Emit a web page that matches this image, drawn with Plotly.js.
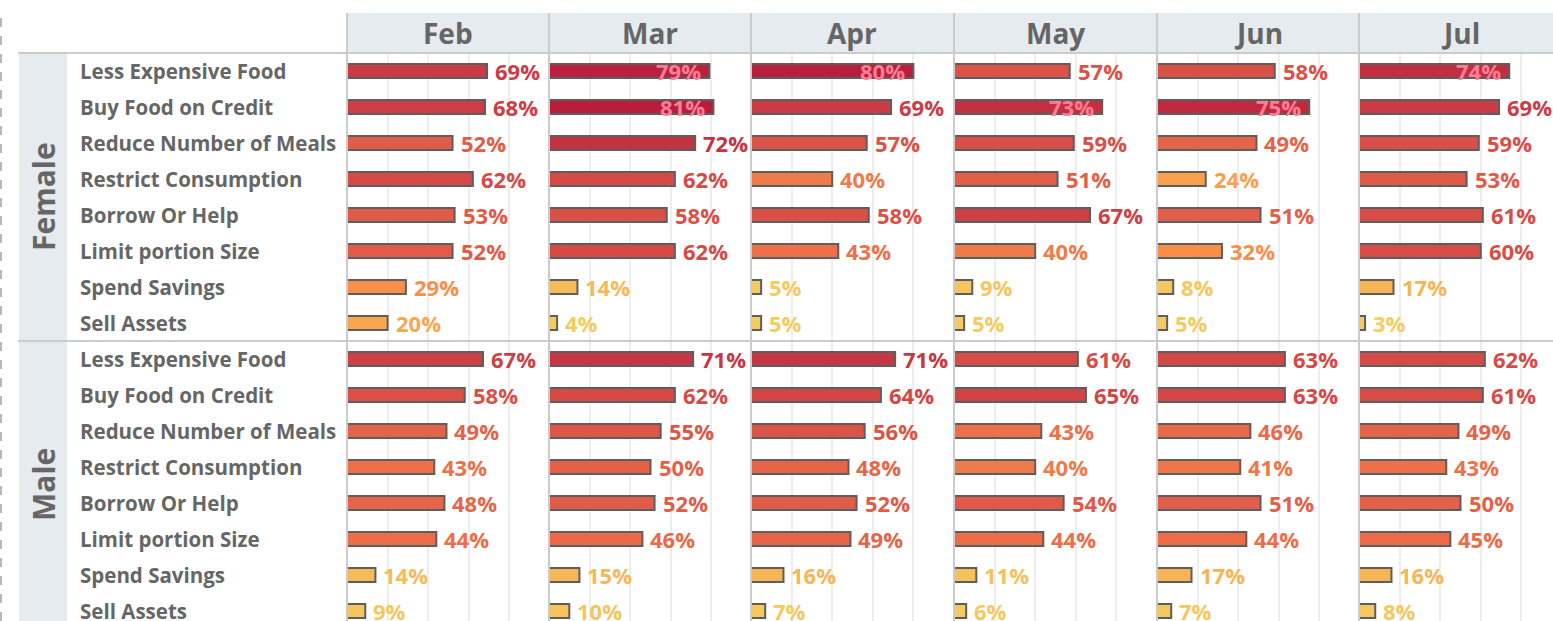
<!DOCTYPE html>
<html>
<head>
<meta charset="utf-8">
<script src="https://cdn.plot.ly/plotly-3.0.1.min.js"></script>
<style>html,body{margin:0;padding:0;background:#fff;}#chart{width:1553px;height:621px;}</style>
</head>
<body>
<div id="chart"></div>
<script>
// ---------------- DATA ----------------
const months = ['Feb', 'Mar', 'Apr', 'May', 'Jun', 'Jul'];
const groups = ['Female', 'Male'];
const categories = ['Less Expensive Food', 'Buy Food on Credit', 'Reduce Number of Meals',
  'Restrict Consumption', 'Borrow Or Help', 'Limit portion Size', 'Spend Savings', 'Sell Assets'];

// values in percent, one array per month, in the order of `categories`
const femaleFeb = [69, 68, 52, 62, 53, 52, 29, 20];
const femaleMar = [79, 81, 72, 62, 58, 62, 14, 4];
const femaleApr = [80, 69, 57, 40, 58, 43, 5, 5];
const femaleMay = [57, 73, 59, 51, 67, 40, 9, 5];
const femaleJun = [58, 75, 49, 24, 51, 32, 8, 5];
const femaleJul = [74, 69, 59, 53, 61, 60, 17, 3];

const maleFeb = [67, 58, 49, 43, 48, 44, 14, 9];
const maleMar = [71, 62, 55, 50, 52, 46, 15, 10];
const maleApr = [71, 64, 56, 48, 52, 49, 16, 7];
const maleMay = [61, 65, 43, 40, 54, 44, 11, 6];
const maleJun = [63, 63, 46, 41, 51, 44, 17, 7];
const maleJul = [62, 61, 49, 43, 50, 45, 16, 8];

const femaleValues = [femaleFeb, femaleMar, femaleApr, femaleMay, femaleJun, femaleJul];
const maleValues = [maleFeb, maleMar, maleApr, maleMay, maleJun, maleJul];

// ---------------- STYLE / LAYOUT ----------------
const W = 1553, H = 621;
const FONT = '"Open Sans", "Noto Sans", sans-serif';
const GREY_TEXT = '#666666';
const SEP = '#CBCBCB';
const pxPerUnit = 2.03;
const panelStarts = [347, 549, 751, 954, 1157, 1359];
const panelEnd = 1553;
const headerTop = 13, headerBottom = 53, groupSplit = 341;
const rowPx = 36;

const px = x => x / W;
const py = y => 1 - y / H;

// sequential colour ramp (value % -> colour)
const ramp = [
  [3, [245, 204, 94]], [9, [245, 198, 94]], [15, [246, 184, 87]], [17, [246, 180, 85]],
  [20, [249, 166, 78]], [24, [249, 160, 76]], [29, [250, 143, 74]], [32, [249, 142, 74]],
  [40, [239, 122, 74]], [44, [236, 109, 72]], [49, [229, 99, 72]], [52, [225, 92, 72]],
  [57, [219, 82, 71]], [62, [213, 74, 71]], [65, [208, 68, 70]], [69, [202, 59, 69]],
  [72, [197, 51, 67]], [75, [192, 42, 65]], [81, [184, 29, 60]]
];
function colorFor(v) {
  if (v <= ramp[0][0]) return rgb(ramp[0][1]);
  for (let i = 1; i < ramp.length; i++) {
    if (v <= ramp[i][0]) {
      const [a, ca] = ramp[i - 1], [b, cb] = ramp[i];
      const t = (v - a) / (b - a);
      return rgb(ca.map((c, k) => c + (cb[k] - c) * t));
    }
  }
  return rgb(ramp[ramp.length - 1][1]);
}
function rgb(c) { return 'rgb(' + c.map(Math.round).join(',') + ')'; }

const insideThreshold = 73;

const traces = [];
const annotations = [];
const layout = {
  width: W, height: H,
  margin: {l: 0, r: 0, t: 0, b: 0},
  paper_bgcolor: '#ffffff', plot_bgcolor: 'rgba(0,0,0,0)',
  showlegend: false,
  font: {family: FONT, color: GREY_TEXT},
  bargap: 0,
  shapes: [],
  annotations: annotations
};

const femaleRows = (groupSplit - headerBottom) / rowPx; // 8
const maleRows = (H - groupSplit) / rowPx;

layout.yaxis = {
  domain: [py(groupSplit), py(headerBottom)], type: 'category', categoryarray: categories,
  range: [femaleRows - 0.5, -0.5], showticklabels: false, showgrid: false, zeroline: false,
  showline: false, ticks: '', fixedrange: true
};
layout.yaxis2 = {
  domain: [0, py(groupSplit)], type: 'category', categoryarray: categories,
  range: [maleRows - 0.5, -0.5], showticklabels: false, showgrid: false, zeroline: false,
  showline: false, ticks: '', fixedrange: true
};

groups.forEach((g, gi) => {
  const yRef = gi === 0 ? 'y' : 'y2';
  const valuesByMonth = gi === 0 ? femaleValues : maleValues;
  months.forEach((m, mi) => {
    const axIndex = gi * months.length + mi + 1;
    const xName = axIndex === 1 ? 'xaxis' : 'xaxis' + axIndex;
    const xRef = axIndex === 1 ? 'x' : 'x' + axIndex;
    const x0 = panelStarts[mi];
    const x1 = mi < months.length - 1 ? panelStarts[mi + 1] : panelEnd;
    layout[xName] = {
      domain: [px(x0), px(x1)], range: [0, (x1 - x0) / pxPerUnit], anchor: yRef,
      showticklabels: false, ticks: '', zeroline: false, showline: false,
      showgrid: true, gridcolor: '#EEEEEE', gridwidth: 2, tickmode: 'array',
      tickvals: [20, 40, 60, 80], fixedrange: true
    };
    const vals = valuesByMonth[mi];
    traces.push({
      type: 'bar', orientation: 'h', x: vals, y: categories,
      xaxis: xRef, yaxis: yRef, width: 0.39,
      marker: {color: vals.map(colorFor), line: {color: '#5E5E5E', width: 2}},
      hoverinfo: 'skip', cliponaxis: false
    });
    vals.forEach((v, ci) => {
      const inside = v >= insideThreshold;
      annotations.push({
        xref: xRef, yref: yRef, x: v, y: categories[ci],
        text: v + '%', showarrow: false,
        xanchor: inside ? 'right' : 'left', xshift: inside ? -6 : 6, yshift: 0,
        font: {family: FONT, size: 22, weight: 700, color: inside ? '#FF7E96' : colorFor(v)}
      });
    });
  });
  // category labels
  categories.forEach(c => {
    annotations.push({
      xref: 'paper', yref: yRef, x: px(78), y: c, text: c, showarrow: false,
      xanchor: 'left', font: {family: FONT, size: 20.5, weight: 700, color: GREY_TEXT}
    });
  });
});

// month headers
months.forEach((m, mi) => {
  const x0 = panelStarts[mi];
  const x1 = x0 + 202;
  annotations.push({
    xref: 'paper', yref: 'paper', x: px((x0 + x1) / 2), y: py((headerTop + headerBottom) / 2),
    text: m, showarrow: false, xanchor: 'center', yanchor: 'middle',
    font: {family: FONT, size: 28, weight: 700, color: GREY_TEXT}
  });
});

// group headers (rotated)
annotations.push({
  xref: 'paper', yref: 'paper', x: px(43), y: py((headerBottom + groupSplit) / 2),
  text: groups[0], textangle: -90, showarrow: false, xanchor: 'center', yanchor: 'middle',
  font: {family: FONT, size: 30, weight: 700, color: GREY_TEXT}
});
annotations.push({
  xref: 'paper', yref: 'paper', x: px(43), y: py(groupSplit + 4 * rowPx),
  text: groups[1], textangle: -90, showarrow: false, xanchor: 'center', yanchor: 'middle',
  font: {family: FONT, size: 30, weight: 700, color: GREY_TEXT}
});

// background bands
const S = layout.shapes;
S.push({type: 'rect', xref: 'paper', yref: 'paper', x0: px(panelStarts[0]), x1: 1,
  y0: py(headerBottom), y1: py(headerTop), fillcolor: '#E6EBEF', line: {width: 0}, layer: 'below'});
S.push({type: 'rect', xref: 'paper', yref: 'paper', x0: px(19), x1: px(67),
  y0: 0, y1: py(headerBottom), fillcolor: '#E6EBEF', line: {width: 0}, layer: 'below'});
// horizontal separators
[headerBottom, groupSplit].forEach(y => {
  S.push({type: 'line', xref: 'paper', yref: 'paper', x0: px(18), x1: 1, y0: py(y), y1: py(y),
    line: {color: SEP, width: 2}, layer: 'above'});
});
// vertical separators
panelStarts.forEach(x => {
  S.push({type: 'line', xref: 'paper', yref: 'paper', x0: px(x), x1: px(x), y0: 0, y1: py(headerTop),
    line: {color: SEP, width: 2}, layer: 'above'});
});
// dashed outer border on the left
S.push({type: 'line', xref: 'paper', yref: 'paper', x0: px(1), x1: px(1), y0: 0, y1: py(15),
  line: {color: '#B8B8B8', width: 2, dash: 'dash'}, layer: 'above'});

Plotly.newPlot('chart', traces, layout, {displayModeBar: false, staticPlot: true});
</script>
</body>
</html>
